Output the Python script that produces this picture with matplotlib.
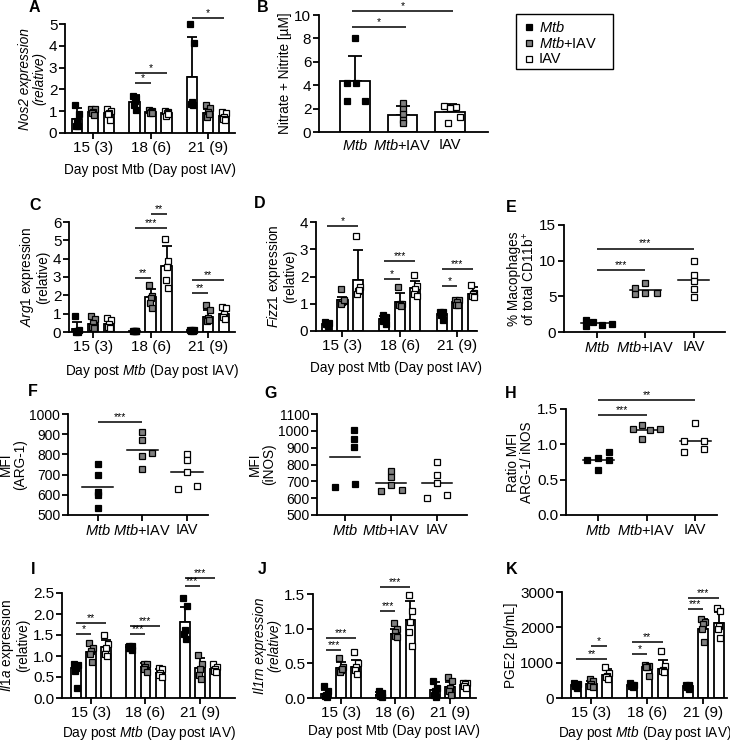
import matplotlib
matplotlib.use('Agg')
import matplotlib.pyplot as plt
from matplotlib.lines import Line2D
from matplotlib.patches import Rectangle
import numpy as np

plt.rcParams['font.family'] = ['Liberation Sans', 'DejaVu Sans']
plt.rcParams['mathtext.fontset'] = 'custom'
plt.rcParams['mathtext.rm'] = 'Liberation Sans'
plt.rcParams['mathtext.it'] = 'Liberation Sans:italic'
plt.rcParams['mathtext.bf'] = 'Liberation Sans:bold'

# ---------------- data ----------------
groups = ["15 (3)", "18 (6)", "21 (9)"]
conditions = [r"$\it{Mtb}$", r"$\it{Mtb}$+IAV", "IAV"]

# A: Nos2
A_mean = [[0.65, 0.97, 0.90], [1.43, 0.97, 0.90], [2.58, 0.92, 0.76]]
A_sd = [[0.50, 0.12, 0.20], [0.30, 0.08, 0.12], [1.82, 0.20, 0.13]]
A_pts = [
    [[1.27, 0.85, 0.55, 0.30, 0.30], [1.10, 1.08, 0.95, 0.90, 0.82], [1.10, 1.00, 0.90, 0.85, 0.60]],
    [[1.70, 1.60, 1.45, 1.30, 1.05], [1.05, 1.00, 0.97, 0.93, 0.90], [1.00, 0.98, 0.90, 0.80, 0.85]],
    [[5.00, 4.15, 1.40, 1.35, 1.30], [1.30, 1.15, 0.95, 0.75, 0.85], [0.95, 0.90, 0.75, 0.62, 0.60]],
]
A_sig = [(1, 0, 1, 2.30, '*'), (1, 0, 2, 2.73, '*'), (2, 0, 2, 5.26, '*')]

# B: Nitrate + Nitrite
B_mean = [4.34, 1.49, 1.70]
B_sd = [2.16, 0.71, 0.67]
B_pts = [[8.0, 4.2, 4.2, 2.65, 2.65], [2.45, 2.0, 1.5, 1.0, 0.8], [2.2, 2.1, 2.05, 1.25, 0.75]]
B_sig = [(0, 1, 8.94, '*'), (0, 2, 10.34, '*')]

# C: Arg1
C_mean = [[0.15, 0.45, 0.45], [0.05, 1.90, 3.58], [0.10, 0.82, 0.96]]
C_sd = [[0.40, 0.30, 0.25], [0.03, 0.46, 1.09], [0.04, 0.38, 0.29]]
C_pts = [
    [[0.85, 0.10, 0.05, 0.00, 0.00], [0.90, 0.70, 0.50, 0.30, 0.20], [0.75, 0.65, 0.45, 0.30, 0.20]],
    [[0.07, 0.05, 0.05, 0.04, 0.03], [2.55, 1.95, 1.85, 1.60, 1.30], [5.05, 3.90, 3.55, 2.85, 2.40]],
    [[0.13, 0.10, 0.10, 0.08, 0.08], [1.50, 1.20, 0.75, 0.60, 0.65], [1.35, 1.30, 1.00, 0.80, 0.70]],
]
C_sig = [(1, 0, 1, 2.96, '**'), (1, 0, 2, 5.67, '***'), (1, 1, 2, 6.42, '**'),
         (2, 0, 1, 2.13, '**'), (2, 0, 2, 2.82, '**')]

# D: Fizz1
D_mean = [[0.27, 1.13, 1.88], [0.45, 1.06, 1.58], [0.64, 1.06, 1.37]]
D_sd = [[0.05, 0.12, 1.10], [0.10, 0.34, 0.27], [0.08, 0.10, 0.23]]
D_pts = [
    [[0.32, 0.30, 0.27, 0.25, 0.20], [1.55, 1.10, 1.05, 1.00, 1.15], [3.50, 1.60, 1.45, 1.35, 1.50]],
    [[0.60, 0.50, 0.45, 0.35, 0.25], [1.60, 1.00, 1.00, 0.95, 0.90], [2.05, 1.65, 1.55, 1.35, 1.30]],
    [[0.70, 0.68, 0.62, 0.60, 0.40], [1.15, 1.12, 1.05, 0.95, 0.95], [1.70, 1.40, 1.35, 1.30, 1.25]],
]
D_sig = [(0, 0, 2, 3.85, '*'), (1, 0, 1, 1.90, '*'), (1, 0, 2, 2.56, '***'),
         (2, 0, 1, 1.64, '*'), (2, 0, 2, 2.26, '***')]

# E: % macrophages
E_pts = [[1.75, 1.40, 0.90, 1.00, 1.10], [6.2, 5.3, 6.9, 5.5, 5.4], [10.0, 8.06, 7.17, 6.05, 4.88]]
E_sig = [(0, 1, 8.7, '***'), (0, 2, 11.7, '***')]

# F: MFI ARG-1
F_pts = [[753, 699, 616, 599, 533], [909, 872, 806, 793, 730], [803, 770, 715, 646, 627]]
F_sig = [(0, 1, 960, '***')]

# G: MFI iNOS
G_pts = [[1003, 953, 902, 667, 685], [764, 728, 679, 645, 649], [814, 739, 693, 599, 619]]
G_sig = []

# H: ratio
H_pts = [[0.78, 0.80, 0.885, 0.78, 0.63], [1.21, 1.27, 1.08, 1.20, 1.22], [1.30, 1.05, 1.05, 0.885, 0.94]]
H_sig = [(0, 1, 1.41, '***'), (0, 2, 1.63, '**')]

# I: Il1a
I_mean = [[0.71, 1.10, 1.21], [1.21, 0.75, 0.60], [1.81, 0.71, 0.70]]
I_sd = [[0.12, 0.15, 0.17], [0.05, 0.08, 0.10], [0.36, 0.24, 0.08]]
I_pts = [
    [[0.82, 0.78, 0.72, 0.65, 0.25], [1.30, 1.20, 1.12, 1.05, 0.85], [1.50, 1.28, 1.20, 1.05, 1.00]],
    [[1.25, 1.23, 1.20, 1.18, 1.15], [0.82, 0.80, 0.75, 0.70, 0.62], [0.72, 0.68, 0.60, 0.55, 0.50]],
    [[2.38, 2.20, 1.61, 1.52, 1.41], [1.02, 0.80, 0.70, 0.55, 0.45], [0.80, 0.75, 0.70, 0.65, 0.62]],
]
I_sig = [(0, 0, 1, 1.52, '*'), (0, 0, 2, 1.79, '**'), (1, 0, 1, 1.52, '***'),
         (1, 0, 2, 1.72, '***'), (2, 0, 1, 2.66, '***'), (2, 0, 2, 2.86, '***')]

# J: Il1rn
J_mean = [[0.06, 0.43, 0.45], [0.05, 0.93, 1.12], [0.11, 0.16, 0.19]]
J_sd = [[0.05, 0.09, 0.10], [0.03, 0.07, 0.28], [0.12, 0.07, 0.03]]
J_pts = [
    [[0.17, 0.10, 0.05, 0.03, 0.02], [0.58, 0.45, 0.40, 0.38, 0.42], [0.67, 0.50, 0.45, 0.40, 0.35]],
    [[0.10, 0.07, 0.05, 0.03, 0.02], [1.08, 1.00, 0.95, 0.90, 0.88], [1.48, 1.25, 1.10, 0.95, 0.75]],
    [[0.25, 0.15, 0.10, 0.05, 0.02], [0.30, 0.25, 0.15, 0.10, 0.05], [0.22, 0.21, 0.20, 0.18, 0.15]],
]
J_sig = [(0, 0, 1, 0.69, '***'), (0, 0, 2, 0.87, '***'), (1, 0, 1, 1.26, '***'), (1, 0, 2, 1.60, '***')]

# K: PGE2
K_mean = [[358, 405, 660], [358, 877, 830], [330, 1962, 2132]]
K_sd = [[32, 65, 170], [40, 63, 236], [50, 268, 308]]
K_pts = [
    [[420, 400, 380, 330, 280], [550, 480, 400, 350, 320], [870, 700, 620, 600, 550]],
    [[430, 380, 360, 340, 300], [930, 910, 890, 880, 620], [1330, 900, 800, 770, 730]],
    [[380, 370, 340, 310, 250], [2230, 2150, 2100, 1950, 1580], [2560, 2450, 2050, 1950, 1700]],
]
K_sig = [(0, 1, 2, 1472, '*'), (0, 0, 2, 1113, '**'), (1, 0, 1, 1255, '*'),
         (1, 0, 2, 1585, '**'), (2, 0, 1, 2509, '***'), (2, 0, 2, 2840, '***')]

# ---------------- style ----------------
W, H = 730, 741
fig = plt.figure(figsize=(W / 100, H / 100), dpi=100)
FILL = ['black', '#808080', 'white']
LW = 1.3
TICK_FS = 11
LAB_FS = 9.8
JIT = [-0.18, 0.18, 0.0, -0.1, 0.12]


def add_ax(l, t, r, b):
    ax = fig.add_axes([l / W, 1 - b / H, (r - l) / W, (b - t) / H])
    for s in ['top', 'right']:
        ax.spines[s].set_visible(False)
    for s in ['left', 'bottom']:
        ax.spines[s].set_linewidth(LW)
    ax.tick_params(direction='out', length=4, width=LW, labelsize=TICK_FS, pad=1.5)
    ax.set_facecolor('none')
    return ax


def sig_line(ax, x0, x1, y, txt, fs=7.5):
    ax.plot([x0, x1], [y, y], color='black', lw=1.1, clip_on=False, solid_capstyle='butt')
    ax.text((x0 + x1) / 2, y, txt, ha='center', va='bottom', fontsize=fs, clip_on=False)


def bar_panel(ax, means, sds, pts, G, xlim, ylim, yticks, sigs, xlabel, ylabel, ylab_kw=None,
              bw=0.65, xpad=6):
    for g in range(3):
        for c in range(3):
            x = g * G + (c - 1)
            ax.bar(x, means[g][c], width=bw, color='white', edgecolor='black', lw=LW, zorder=2)
            ax.errorbar(x, means[g][c], yerr=[[0], [sds[g][c]]], fmt='none', ecolor='black',
                        elinewidth=LW, capsize=3.5, capthick=LW, zorder=1.5)
            xs = [x + j * bw for j in JIT[:len(pts[g][c])]]
            ax.plot(xs, pts[g][c], 's', ms=4.8, mfc=FILL[c], mec='black', mew=0.9, zorder=3,
                    clip_on=False)
    for (g, c0, c1, y, t) in sigs:
        sig_line(ax, g * G + c0 - 1, g * G + c1 - 1, y, t)
    ax.set_xlim(*xlim)
    ax.set_ylim(*ylim)
    ax.set_yticks(yticks)
    ax.set_xticks([g * G for g in range(3)])
    ax.set_xticklabels(groups)
    ax.set_xlabel(xlabel, fontsize=LAB_FS, labelpad=xpad)
    ax.set_ylabel(ylabel, fontsize=LAB_FS, labelpad=2, linespacing=1.0, **(ylab_kw or {}))


def dot_panel(ax, pts, jit, xlim, ylim, yticks, sigs, ylabel, lw_half=0.32):
    for c in range(3):
        xs = [c + j for j in jit[c]]
        ax.plot(xs, pts[c], 's', ms=5.0, mfc=FILL[c], mec='black', mew=0.9, zorder=3, clip_on=False)
        m = np.mean(pts[c])
        ax.plot([c - lw_half, c + lw_half], [m, m], color='black', lw=1.1, zorder=2)
    for (c0, c1, y, t) in sigs:
        sig_line(ax, c0, c1, y, t)
    ax.set_xlim(*xlim)
    ax.set_ylim(*ylim)
    ax.set_yticks(yticks)
    ax.set_xticks(range(3))
    ax.set_xticklabels(conditions, fontsize=10.5)
    ax.set_ylabel(ylabel, fontsize=LAB_FS, labelpad=2, linespacing=1.0)


# ---------------- panels ----------------
axA = add_ax(65, 24, 235, 133)
bar_panel(axA, A_mean, A_sd, A_pts, 3.6, (-1.75, 8.875), (0, 5), range(0, 6), A_sig,
          "Day post Mtb (Day post IAV)", "Nos2 expression\n(relative)", {'fontstyle': 'italic'})

axB = add_ax(319, 15, 488, 132)
for c in range(3):
    axB.bar(c, B_mean[c], width=0.62, color='white', edgecolor='black', lw=LW, zorder=2)
    axB.errorbar(c, B_mean[c], yerr=[[0], [B_sd[c]]], fmt='none', ecolor='black', elinewidth=LW,
                 capsize=5, capthick=LW, zorder=1.5)
B_jit = [[0.0, -0.18, 0.02, -0.18, 0.2], [0.0, 0.0, 0.0, 0.0, 0.0], [-0.12, 0.12, 0.0, 0.2, -0.05]]
for c in range(3):
    axB.plot([c + j for j in B_jit[c]], B_pts[c], 's', ms=4.8, mfc=FILL[c], mec='black', mew=0.9, zorder=3)
for (c0, c1, y, t) in B_sig:
    sig_line(axB, c0 - 0.07, c1 + 0.07, y, t)
axB.set_xlim(-0.76, 2.8)
axB.set_ylim(0, 10)
axB.set_yticks(range(0, 11, 2))
axB.set_xticks(range(3))
axB.set_xticklabels(conditions, fontsize=10.5)
axB.tick_params(axis='x', length=0, pad=4)
axB.set_ylabel(u"Nitrate + Nitrite [\u00b5M]", fontsize=LAB_FS, labelpad=2)

axC = add_ax(69, 222, 235, 332)
bar_panel(axC, C_mean, C_sd, C_pts, 3.6, (-1.5, 8.875), (0, 6), range(0, 7), C_sig,
          r"Day post $\it{Mtb}$ (Day post IAV)", "$\\it{Arg1}$ expression\n(relative)")

axD = add_ax(316, 222, 477, 331)
bar_panel(axD, D_mean, D_sd, D_pts, 3.7, (-1.71, 8.68), (0, 4), range(0, 5), D_sig,
          "Day post Mtb (Day post IAV)", "$\\it{Fizz1}$ expression\n(relative)")

axE = add_ax(564, 225, 725, 332)
E_jit = [[-0.23, -0.08, -0.23, 0.1, 0.3], [-0.22, -0.22, 0.0, 0.0, 0.23], [0, 0, 0, 0, 0]]
dot_panel(axE, E_pts, E_jit, (-0.68, 2.64), (0, 15), [0, 5, 10, 15], E_sig,
          "% Macophages\nof total CD11b$^{+}$")

axF = add_ax(68, 414, 208, 515)
F_jit = [[0, 0, 0, 0, 0], [0, 0, 0.22, 0, 0], [0, 0, 0, 0.22, -0.21]]
dot_panel(axF, F_pts, F_jit, (-0.67, 2.47), (500, 1000), range(500, 1001, 100), F_sig,
          "MFI\n(ARG-1)", lw_half=0.35)
axF.tick_params(axis='y', labelsize=10)

axG = add_ax(317, 414, 467, 515)
G_jit = [[0.2, 0.2, 0.2, -0.22, 0.22], [0, 0, 0, -0.22, 0.24], [0, 0, 0, -0.22, 0.22]]
dot_panel(axG, G_pts, G_jit, (-0.61, 2.65), (500, 1100), range(500, 1101, 100), G_sig,
          "MFI\n(iNOS)")
axG.tick_params(axis='y', labelsize=10)

axH = add_ax(566, 409, 717, 515)
H_jit = [[-0.23, 0.0, 0.23, 0.23, 0.0], [-0.29, -0.1, -0.1, 0.08, 0.28], [0, -0.23, 0.18, -0.23, 0.18]]
dot_panel(axH, H_pts, H_jit, (-0.66, 2.45), (0, 1.5), [0.0, 0.5, 1.0, 1.5], H_sig,
          "Ratio MFI\nARG-1/ iNOS")
axH.yaxis.set_major_formatter(matplotlib.ticker.FormatStrFormatter('%.1f'))

axI = add_ax(62, 593, 235, 698)
bar_panel(axI, I_mean, I_sd, I_pts, 3.63, (-1.93, 9.6), (0, 2.5), np.arange(0, 2.51, 0.5), I_sig,
          r"Day post $\it{Mtb}$ (Day post IAV)", "$\\it{Il1a}$ expression\n(relative)", xpad=3)
axI.yaxis.set_major_formatter(matplotlib.ticker.FormatStrFormatter('%.1f'))

axJ = add_ax(313, 594, 476, 698)
bar_panel(axJ, J_mean, J_sd, J_pts, 3.63, (-1.87, 9.0), (0, 1.5), np.arange(0, 1.51, 0.5), J_sig,
          "Day post Mtb (Day post IAV)", "Il1rn expression\n(relative)", {'fontstyle': 'italic'}, xpad=3)
axJ.yaxis.set_major_formatter(matplotlib.ticker.FormatStrFormatter('%.1f'))

axK = add_ax(562, 592, 727, 698)
bar_panel(axK, K_mean, K_sd, K_pts, 3.6, (-1.9, 8.74), (0, 3000), range(0, 3001, 1000), K_sig,
          r"Day post $\it{Mtb}$ (Day post IAV)", "PGE2 [pg/mL]", xpad=3)

# panel letters
letters = [('A', 34, 7), ('B', 263, 7), ('C', 35, 205), ('D', 260, 203), ('E', 511, 207),
           ('F', 33, 392), ('G', 271, 393), ('H', 511, 393), ('I', 33, 570), ('J', 262, 569),
           ('K', 512, 570)]
for t, x, y in letters:
    fig.text(x / W, 1 - y / H, t, fontsize=11.5, fontweight='bold', ha='center', va='center')

# legend (drawn manually to match the boxed key)
fig.add_artist(Rectangle((516 / W, 1 - 69 / H), 97 / W, 55 / H, transform=fig.transFigure,
                         fill=False, edgecolor='black', lw=1.0))
for c, yy in enumerate([27, 43, 59]):
    fig.add_artist(Line2D([529 / W], [1 - yy / H], transform=fig.transFigure, ls='none', marker='s',
                          ms=5, mfc=FILL[c], mec='black', mew=0.9))
    fig.text(539 / W, 1 - yy / H, conditions[c], fontsize=10.5, ha='left', va='center')

fig.savefig('out.png', dpi=100)
